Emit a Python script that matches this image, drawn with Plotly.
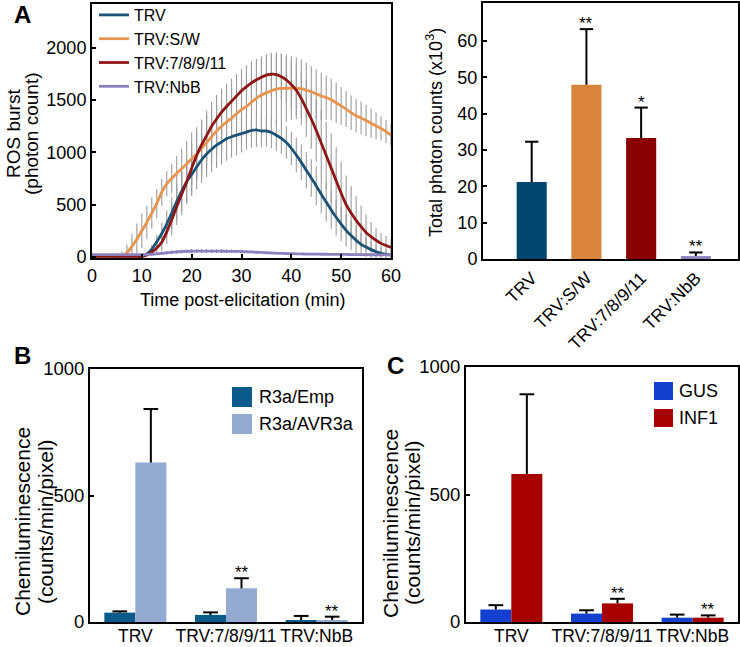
import plotly.graph_objects as go

W, H = 740, 647
def px(x): return x / W
def py(y): return 1 - y / H

# ---------------- Panel A (left): ROS burst time course ----------------
time_min = list(range(61))
trv = [8, 8, 8, 8, 8, 8, 8, 8, 8, 8, 10,
       30, 75, 145, 225, 315, 420, 530, 630, 720, 790,
       860, 930, 985, 1030, 1070, 1100, 1130, 1150, 1165, 1180,
       1195, 1210, 1215, 1205, 1205, 1190, 1165, 1135, 1095, 1040,
       975, 905, 830, 755, 680, 600, 525, 450, 380, 315,
       255, 205, 160, 120, 95, 70, 50, 35, 25, 18]
trv_sw = [10, 10, 10, 10, 10, 10, 15, 40, 100, 170, 250,
          330, 420, 510, 620, 700, 750, 800, 845, 890, 940,
          985, 1040, 1095, 1150, 1205, 1250, 1290, 1327, 1370, 1410,
          1440, 1480, 1520, 1550, 1570, 1590, 1605, 1612, 1614, 1615,
          1612, 1610, 1595, 1580, 1560, 1540, 1525, 1505, 1475, 1445,
          1415, 1380, 1350, 1330, 1305, 1280, 1255, 1230, 1200, 1165]
trv_7811 = [5, 5, 5, 5, 5, 5, 5, 5, 5, 5, 5,
            20, 45, 85, 140, 240, 355, 480, 600, 720, 850,
            970, 1075, 1160, 1250, 1320, 1385, 1440, 1490, 1540, 1590,
            1630, 1665, 1695, 1720, 1740, 1748, 1745, 1725, 1695, 1650,
            1595, 1515, 1420, 1320, 1210, 1090, 970, 850, 730, 610,
            500, 420, 350, 290, 235, 195, 160, 130, 110, 90]
trv_nbb = [22, 22, 22, 22, 22, 22, 22, 22, 22, 22, 22,
           24, 26, 30, 35, 40, 45, 48, 52, 54, 55,
           55, 56, 56, 56, 55, 55, 54, 54, 53, 52,
           50, 48, 45, 43, 40, 38, 36, 34, 33, 32,
           30, 29, 28, 28, 27, 26, 26, 25, 25, 24,
           24, 23, 23, 22, 22, 21, 21, 20, 20, 20]
trv_err = [0, 0, 0, 0, 0, 0, 0, 0, 0, 0, 0,
           15, 40, 70, 100, 130, 155, 175, 190, 200, 210,
           215, 220, 220, 220, 220, 215, 210, 200, 190, 180,
           170, 165, 160, 155, 150, 150, 150, 150, 155, 160,
           165, 170, 175, 180, 185, 185, 185, 180, 175, 165,
           155, 140, 125, 110, 95, 80, 65, 55, 45, 40]
sw_err = [0, 0, 0, 0, 0, 0, 40, 80, 120, 150, 165,
          160, 150, 140, 130, 120, 140, 165, 185, 220, 250,
          255, 260, 260, 255, 245, 240, 255, 270, 285, 300,
          320, 340, 345, 345, 345, 345, 344, 335, 320, 305,
          295, 280, 265, 245, 235, 225, 212, 200, 190, 180,
          172, 165, 160, 158, 150, 140, 128, 116, 110, 105]
r7811_err = [0, 0, 0, 0, 0, 0, 0, 0, 0, 0, 0,
             15, 30, 55, 80, 115, 150, 175, 200, 215, 230,
             235, 240, 240, 235, 230, 225, 220, 215, 210, 210,
             205, 205, 200, 200, 200, 205, 210, 215, 220, 230,
             240, 255, 270, 285, 300, 310, 320, 330, 320, 300,
             280, 260, 230, 200, 170, 140, 120, 100, 90, 80]
nbb_err = [5, 5, 5, 5, 5, 5, 5, 5, 5, 5, 5,
           8, 10, 12, 14, 15, 16, 17, 18, 18, 18,
           18, 18, 18, 18, 18, 18, 17, 16, 15, 14,
           13, 12, 11, 10, 10, 9, 9, 8, 8, 8,
           7, 7, 7, 7, 7, 7, 7, 7, 7, 7,
           7, 7, 7, 7, 7, 7, 7, 7, 7, 7]

# ---------------- Panel A (right): total photon counts ----------------
groups_a = ["TRV", "TRV:S/W", "TRV:7/8/9/11", "TRV:NbB"]
total_counts = [21.2, 48.0, 33.3, 0.8]
total_err = [11.1, 15.3, 8.4, 1.0]
total_sig = ["", "**", "*", "**"]

# ---------------- Panels B and C ----------------
groups_bc = ["TRV", "TRV:7/8/9/11", "TRV:NbB"]
pos_bc = [0, 1, 2]
r3a_emp = [37, 28, 8]
r3a_emp_err = [5, 10, 16]
r3a_avr3a = [630, 133, 8]
r3a_avr3a_err = [212, 40, 13]
sig_b = ["", "**", "**"]

gus = [49, 33, 17]
gus_err = [17, 13, 12]
inf1 = [580, 73, 17]
inf1_err = [313, 18, 9]
sig_c = ["", "**", "**"]

line_colors = {"TRV": "#1b5276", "TRV:S/W": "#e8944e",
               "TRV:7/8/9/11": "#8e1616", "TRV:NbB": "#8e80bf"}
bar_colors_a = ["#00466e", "#d9843c", "#8b0000", "#8a82bd"]
col_emp, col_avr = "#0a5a8c", "#93abd3"
col_gus, col_inf = "#1440d0", "#a80000"

FONT = "Liberation Sans, Arial, sans-serif"
HALF = 0.171  # half of a grouped bar's width (category units)

fig = go.Figure()

# error bars of the time course (drawn first, behind the lines)
for vals, errs, c in [(trv_sw, sw_err, "#9c9c9c"), (trv_7811, r7811_err, "#9c9c9c"),
                      (trv, trv_err, "#9c9c9c"), (trv_nbb, nbb_err, "#7a6cae")]:
    fig.add_trace(go.Scatter(
        x=time_min, y=vals, mode="markers", marker=dict(size=2, opacity=0),
        error_y=dict(type="data", array=errs, visible=True, color=c, thickness=1.1, width=0),
        showlegend=False, hoverinfo="skip", xaxis="x", yaxis="y"))

for name, vals in [("TRV", trv), ("TRV:S/W", trv_sw), ("TRV:7/8/9/11", trv_7811), ("TRV:NbB", trv_nbb)]:
    fig.add_trace(go.Scatter(
        x=time_min, y=vals, mode="lines", name=name,
        line=dict(color=line_colors[name], width=2.8, shape="spline", smoothing=0.6),
        xaxis="x", yaxis="y", legend="legend"))

def whisker(errs):
    return dict(type="data", symmetric=False, array=errs, arrayminus=[0] * len(errs),
                color="black", thickness=2, width=0)

def caps(xs, tops, size, xa, ya):
    fig.add_trace(go.Scatter(
        x=xs, y=tops, mode="markers",
        marker=dict(symbol="line-ew", size=size, color="black", line=dict(width=2, color="black")),
        showlegend=False, hoverinfo="skip", xaxis=xa, yaxis=ya))

# total photon counts bars
fig.add_trace(go.Bar(
    x=groups_a, y=total_counts, width=0.55, marker=dict(color=bar_colors_a, line=dict(width=0)),
    error_y=whisker(total_err), showlegend=False, xaxis="x2", yaxis="y2"))
caps(groups_a, [v + e for v, e in zip(total_counts, total_err)], 9.5, "x2", "y2")

# Panel B bars
emp_x = [p - HALF for p in pos_bc]
avr_x = [p + HALF for p in pos_bc]
fig.add_trace(go.Bar(
    x=emp_x, y=r3a_emp, width=2 * HALF, name="R3a/Emp", marker=dict(color=col_emp, line=dict(width=0)),
    error_y=whisker(r3a_emp_err), showlegend=False, xaxis="x3", yaxis="y3"))
fig.add_trace(go.Bar(
    x=avr_x, y=r3a_avr3a, width=2 * HALF, name="R3a/AVR3a", marker=dict(color=col_avr, line=dict(width=0)),
    error_y=whisker(r3a_avr3a_err), showlegend=False, xaxis="x3", yaxis="y3"))
caps(emp_x, [v + e for v, e in zip(r3a_emp, r3a_emp_err)], 10.5, "x3", "y3")
caps(avr_x, [v + e for v, e in zip(r3a_avr3a, r3a_avr3a_err)], 10.5, "x3", "y3")

# Panel C bars
fig.add_trace(go.Bar(
    x=emp_x, y=gus, width=2 * HALF, name="GUS", marker=dict(color=col_gus, line=dict(width=0)),
    error_y=whisker(gus_err), showlegend=False, xaxis="x4", yaxis="y4"))
fig.add_trace(go.Bar(
    x=avr_x, y=inf1, width=2 * HALF, name="INF1", marker=dict(color=col_inf, line=dict(width=0)),
    error_y=whisker(inf1_err), showlegend=False, xaxis="x4", yaxis="y4"))
caps(emp_x, [v + e for v, e in zip(gus, gus_err)], 10.5, "x4", "y4")
caps(avr_x, [v + e for v, e in zip(inf1, inf1_err)], 10.5, "x4", "y4")

axis_common = dict(showline=True, linewidth=2, linecolor="black", mirror=True,
                   showgrid=False, zeroline=False, ticks="inside", ticklen=4,
                   tickwidth=1.5, tickcolor="black")
no_ticks = {**axis_common, "ticks": ""}

annotations = []
shapes = []

# significance stars
def star(x, y, s, xa, ya):
    annotations.append(dict(x=x, y=y, xref=xa, yref=ya, text=s, showarrow=False,
                            yanchor="bottom", yshift=-6,
                            font=dict(size=17, family=FONT, color="black")))

for g, v, e, s in zip(groups_a, total_counts, total_err, total_sig):
    if s:
        star(g, v + e, s, "x2", "y2")
for x, v, e, s in zip(avr_x, r3a_avr3a, r3a_avr3a_err, sig_b):
    if s:
        star(x, v + e, s, "x3", "y3")
for x, v, e, s in zip(avr_x, inf1, inf1_err, sig_c):
    if s:
        star(x, v + e, s, "x4", "y4")

def txt(x, y, text, size, angle=0, bold=False, xanchor="center", yanchor="middle"):
    annotations.append(dict(x=px(x), y=py(y), xref="paper", yref="paper", text=text,
                            showarrow=False, textangle=angle, xanchor=xanchor, yanchor=yanchor,
                            font=dict(size=size, family=FONT, color="black",
                                      weight="bold" if bold else "normal")))

# panel letters
txt(22, 15, "A", 24, bold=True)
txt(22, 355, "B", 24, bold=True)
txt(395, 365, "C", 24, bold=True)

# axis titles
txt(13, 134, "ROS burst", 19, angle=-90)
txt(31, 134, "(photon count)", 19, angle=-90)
txt(242, 300, "Time post-elicitation (min)", 18)
txt(435, 133, "Total photon counts (x10<sup>3</sup>)", 18, angle=-90)
txt(22, 522, "Chemiluminescence", 21, angle=-90)
txt(45, 522, "(counts/min/pixel)", 21, angle=-90)
txt(390, 523, "Chemiluminescence", 21, angle=-90)
txt(412, 523, "(counts/min/pixel)", 21, angle=-90)

# legends for B and C (colour squares + labels)
for (y0, y1, c, label) in [(387, 407, col_emp, "R3a/Emp"), (414, 434, col_avr, "R3a/AVR3a")]:
    shapes.append(dict(type="rect", xref="paper", yref="paper", x0=px(232), x1=px(252),
                       y0=py(y1), y1=py(y0), fillcolor=c, line=dict(width=0)))
    txt(257, (y0 + y1) / 2, label, 18, xanchor="left")
for (y0, y1, c, label) in [(382, 400, col_gus, "GUS"), (409, 427, col_inf, "INF1")]:
    shapes.append(dict(type="rect", xref="paper", yref="paper", x0=px(654), x1=px(673),
                       y0=py(y1), y1=py(y0), fillcolor=c, line=dict(width=0)))
    txt(677, (y0 + y1) / 2, label, 18, xanchor="left")

fig.update_layout(
    width=W, height=H, margin=dict(l=0, r=0, t=0, b=0, autoexpand=False),
    paper_bgcolor="white", plot_bgcolor="white",
    font=dict(family=FONT, color="black", size=17),
    barmode="overlay",
    xaxis=dict(domain=[px(92), px(391)], range=[0, 60], tickvals=[0, 10, 20, 30, 40, 50, 60],
               anchor="y", tickfont=dict(size=18), **axis_common),
    yaxis=dict(domain=[py(258), py(4)], range=[-10, 2420], tickvals=[0, 500, 1000, 1500, 2000],
               anchor="x", tickfont=dict(size=18), **axis_common),
    xaxis2=dict(domain=[px(483), px(738)], type="category", range=[-0.89, 3.77], tickangle=-45,
                anchor="y2", tickfont=dict(size=17.5), **no_ticks),
    yaxis2=dict(domain=[py(259), py(3)], range=[0, 70.5], tickvals=[0, 10, 20, 30, 40, 50, 60],
                anchor="x2", tickfont=dict(size=18), **axis_common),
    xaxis3=dict(domain=[px(90), px(362)], range=[-0.5, 2.5], tickvals=pos_bc, ticktext=groups_bc,
                anchor="y3", tickfont=dict(size=17.5), ticklabelstandoff=-3, **no_ticks),
    yaxis3=dict(domain=[py(622), py(369)], range=[0, 1000], tickvals=[0, 500, 1000],
                anchor="x3", tickfont=dict(size=18.5), **axis_common),
    xaxis4=dict(domain=[px(466), px(738)], range=[-0.5, 2.5], tickvals=pos_bc, ticktext=groups_bc,
                anchor="y4", tickfont=dict(size=17.5), ticklabelstandoff=-3, **no_ticks),
    yaxis4=dict(domain=[py(622), py(367)], range=[0, 1000], tickvals=[0, 500, 1000],
                anchor="x4", tickfont=dict(size=18.5), **axis_common),
    legend=dict(x=px(94), y=py(-2), xanchor="left", yanchor="top", bgcolor="rgba(0,0,0,0)",
                font=dict(size=16, family=FONT), tracegroupgap=0, itemwidth=30),
    annotations=annotations, shapes=shapes,
)

fig.write_html("out.html", config={"displayModeBar": False},
               post_script="document.documentElement.style.margin='0px';"
                           "document.body.style.margin='0px';"
                           "document.body.style.overflow='hidden';")
